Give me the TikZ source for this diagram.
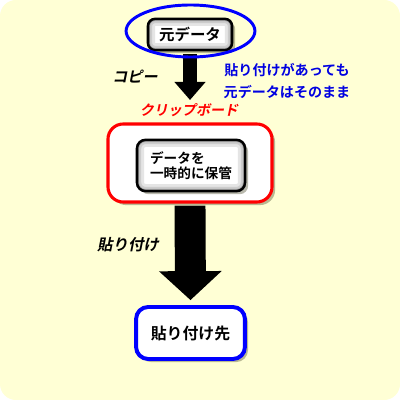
\documentclass[tikz,border=0pt]{standalone}
\usepackage{fontspec}
\usetikzlibrary{positioning,shadows,arrows.meta}
\newfontfamily\jpFont{Noto Sans CJK JP Bold}
\newfontfamily\jpSlant{Noto Sans CJK JP Bold}[FakeSlant=0.2]
\definecolor{paperColor}{RGB}{255,255,213}
\definecolor{shadowColor}{RGB}{80,80,50}
\definecolor{labelBlue}{RGB}{0,0,225}
\tikzstyle{plan} = [x=0.025cm, y=-0.025cm]
\tikzstyle{shadowed} = [drop shadow={shadow xshift=2.2pt, shadow yshift=-2.2pt, fill=shadowColor, opacity=0.4}]
\tikzstyle{innerGlow} = [path picture={
    \foreach \w/\g in {10pt/10, 6pt/20, 3pt/35} {
      \draw [line width=\w, black!\g] (path picture bounding box.south west) rectangle (path picture bounding box.north east);
    }
  }]
\tikzstyle{dataBox} = [draw=black, line width=1.8pt, fill=white, shadowed, innerGlow]
\tikzstyle{plainBox} = [fill=white, shadowed]
\tikzstyle{sideLabel} = [font=\jpSlant\fontsize{11}{13}\selectfont]

\begin{document}
\begin{tikzpicture}[plan]
  \useasboundingbox (0,0) rectangle (400,400);
  \fill [white] (0,0) rectangle (400,400);
  \fill [paperColor, rounded corners=0.4cm] (0,0) rectangle (400,400);
  % boxes
  \node [dataBox, rounded corners=5pt, minimum width=2.1cm, minimum height=0.78cm, font=\jpFont\fontsize{11}{13}\selectfont] (topData) at (190,34.5) {元データ};
  \node [plainBox, draw=red, line width=2.2pt, rounded corners=0.38cm, minimum width=4.1cm, minimum height=1.95cm] (clipBoard) at (190,163) {};
  \node [dataBox, rounded corners=6pt, minimum width=2.7cm, minimum height=1.28cm, align=left, font=\jpFont\fontsize{9.7}{10.8}\selectfont] (tempKeep) at (191,165.5) {データを\\一時的に保管};
  \node [plainBox, draw=blue, line width=2.8pt, rounded corners=0.3cm, minimum width=2.72cm, minimum height=1.3cm, font=\jpFont\fontsize{11.3}{13}\selectfont] (pasteTarget) at (190.5,333) {貼り付け先};
  % arrows
  \coordinate (copyTip) at (190,100);
  \draw [line width=10pt, -{Triangle[width=21.3pt, length=12.8pt]}] ([yshift=-2pt]topData.south) -- (copyTip);
  \draw [line width=22pt, -{Triangle[width=43.4pt, length=20.6pt]}, shorten <=1.5pt, shorten >=3.5pt] (clipBoard.south) -- (pasteTarget.north);
  \draw [blue, line width=2.1pt] (190.5,31) ellipse [x radius=1.61cm, y radius=0.65cm];
  % labels
  \node [sideLabel, font=\jpSlant\fontsize{10.7}{12}\selectfont] (copyLabel) at (135,77) {コピー};
  \node [labelBlue, align=center, font=\jpFont\fontsize{10}{15}\selectfont] (keepNote) at (287,81) {貼り付けがあっても\\元データはそのまま};
  \node [red, font=\jpSlant\fontsize{10}{12}\selectfont] (clipLabel) at (189,110) {クリップボード};
  \node [sideLabel] (pasteLabel) at (128,245) {貼り付け};
\end{tikzpicture}
\end{document}
